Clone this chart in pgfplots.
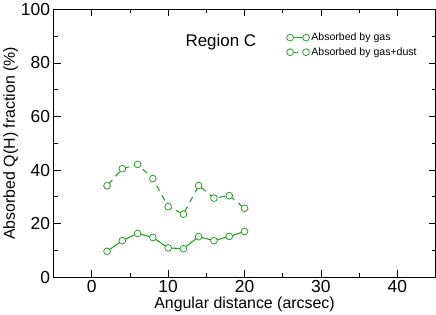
\documentclass[border=0pt]{standalone}
\usepackage{pgfplots}
\pgfplotsset{compat=1.18}
\usepackage{fontspec}
\setmainfont{Liberation Sans}
\definecolor{gr}{RGB}{40,160,40}
\begin{document}
\begin{tikzpicture}
\begin{axis}[
  scale only axis, width=384pt, height=269pt,
  xmin=-5, xmax=45, ymin=0, ymax=100,
  xtick={0,10,20,30,40}, ytick={0,20,40,60,80,100},
  minor xtick={-5,5,15,25,35,45}, minor ytick={10,30,50,70,90},
  tick align=inside, major tick length=7pt, minor tick length=4pt,
  every tick/.style={black, line width=0.8pt},
  axis line style={line width=1pt},
  /pgf/number format/assume math mode=true,
  ticklabel style={font=\fontsize{17.5}{19}\selectfont},
  xlabel={Angular distance (arcsec)}, ylabel={Absorbed Q(H) fraction (\%)},
  label style={font=\fontsize{16}{18}\selectfont},
  xlabel shift=-3pt, ylabel shift=-4pt,
  legend style={draw=none, fill=none, at={(rel axis cs:0.61,0.92)}, anchor=north west,
    font=\fontsize{10.6}{12}\selectfont, row sep=1.5pt, inner sep=0pt},
  legend cell align=left,
  legend image code/.code={\draw[#1] plot coordinates {(0pt,0pt) (16pt,0pt)};},
]
\addplot[gr, line width=1.1pt, mark=*, mark size=3.4pt, mark options={solid, fill=white, draw=gr, line width=0.8pt}] coordinates {
(2,9.6)(4,13.6)(6,16.3)(8,14.8)(10,10.9)(12,10.6)(14,15.1)(16,13.6)(18,15.2)(20,17.0)};
\addlegendentry{Absorbed by gas}
\addplot[gr, line width=1.1pt, dash pattern=on 6pt off 5pt, dash phase=-2pt, mark=*, mark size=3.4pt, mark options={solid, fill=white, draw=gr, line width=0.8pt}] coordinates {
(2,34.1)(4,40.5)(6,42.1)(8,36.8)(10,26.3)(12,23.5)(14,34.2)(16,29.5)(18,30.4)(20,25.7)};
\addlegendentry{Absorbed by gas+dust}
\node[font=\fontsize{17}{19}\selectfont] at (axis cs:16.9,87.7) {Region C};
\end{axis}
\end{tikzpicture}
\end{document}
